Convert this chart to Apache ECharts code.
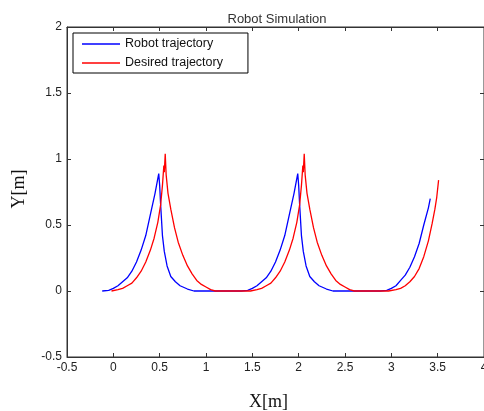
<!DOCTYPE html>
<html><head><meta charset="utf-8">
<script src="https://cdn.jsdelivr.net/npm/echarts@6/dist/echarts.min.js"></script>
<style>html,body{margin:0;padding:0;background:#fff}#c{width:484px;height:411px}</style>
</head><body><div id="c"></div>
<script>
const seriesNames = ['Robot trajectory', 'Desired trajectory'];
const seriesColors = ['#0000ff', '#ff0000'];
const xTicks = [-0.5, 0, 0.5, 1, 1.5, 2, 2.5, 3, 3.5, 4];
const yTicks = [-0.5, 0, 0.5, 1, 1.5, 2];

const blueX = [-0.12,-0.05,0.00,0.05,0.10,0.15,0.20,0.25,0.30,0.35,0.40,0.45,0.49,0.50,0.51,0.53,0.55,0.58,0.62,0.67,0.72,0.80,0.87,
  1.38,1.45,1.50,1.55,1.60,1.65,1.70,1.75,1.80,1.85,1.90,1.95,1.99,2.00,2.01,2.03,2.05,2.08,2.12,2.17,2.22,2.30,2.37,
  2.88,2.95,3.00,3.05,3.10,3.15,3.20,3.25,3.30,3.35,3.40,3.42];
const blueY = [0,0.005,0.02,0.04,0.07,0.10,0.15,0.22,0.31,0.42,0.58,0.74,0.89,0.80,0.66,0.42,0.30,0.19,0.11,0.07,0.04,0.015,0,
  0,0.005,0.02,0.04,0.07,0.10,0.15,0.22,0.31,0.42,0.58,0.74,0.89,0.80,0.66,0.42,0.30,0.19,0.11,0.07,0.04,0.015,0,
  0,0.005,0.02,0.04,0.08,0.12,0.18,0.26,0.36,0.50,0.63,0.70];

const redX = [-0.02,0.05,0.10,0.15,0.20,0.25,0.30,0.35,0.40,0.44,0.48,0.51,0.53,0.545,0.55,0.56,0.57,0.59,0.62,0.66,0.70,0.75,0.80,0.85,0.90,0.95,1.00,1.05,1.10,
  1.48,1.55,1.60,1.65,1.70,1.75,1.80,1.85,1.90,1.94,1.98,2.01,2.03,2.045,2.05,2.06,2.07,2.09,2.12,2.16,2.20,2.25,2.30,2.35,2.40,2.45,2.50,2.55,2.60,
  2.97,3.05,3.10,3.15,3.20,3.25,3.30,3.35,3.40,3.44,3.47,3.49,3.51];
const redY = [0,0.01,0.02,0.04,0.06,0.10,0.15,0.22,0.31,0.40,0.52,0.65,0.80,0.95,0.90,1.04,0.88,0.74,0.62,0.48,0.37,0.27,0.19,0.13,0.08,0.05,0.03,0.01,0,
  0,0.01,0.02,0.04,0.06,0.10,0.15,0.22,0.31,0.40,0.52,0.65,0.80,0.95,0.90,1.04,0.88,0.74,0.62,0.48,0.37,0.27,0.19,0.13,0.08,0.05,0.03,0.01,0,
  0,0.01,0.02,0.04,0.07,0.11,0.17,0.26,0.38,0.51,0.62,0.71,0.84];

const zip = (xs, ys) => xs.map((x, i) => [x, ys[i]]);
const labelFont = {fontFamily:'Liberation Sans', fontSize:12, color:'#222'};
const lineC = '#333';

function xAx(pos, main) {
  return {
    type:'value', min:xTicks[0], max:xTicks[xTicks.length-1], interval:0.5, position:pos,
    axisLine:{show:true, onZero:false, lineStyle:{color:lineC, width:1}},
    axisTick:{show:true, inside:true, length:4, lineStyle:{color:lineC}},
    axisLabel:Object.assign({show:main, margin:5}, labelFont),
    splitLine:{show:false},
    name: main ? 'X[m]' : '', nameLocation:'middle', nameGap:36,
    nameTextStyle:{fontFamily:'Liberation Serif', fontSize:18, color:'#111', padding:[0,14,0,0]}
  };
}
function yAx(pos, main) {
  return {
    type:'value', min:yTicks[0], max:yTicks[yTicks.length-1], interval:0.5, position:pos,
    axisLine:{show:true, onZero:false, lineStyle:{color:lineC, width:1}},
    axisTick:{show:true, inside:true, length:4, lineStyle:{color:lineC}},
    axisLabel:Object.assign({show:main, margin:5}, labelFont),
    splitLine:{show:false},
    name: main ? 'Y[m]' : '', nameLocation:'middle', nameGap:39, nameRotate:90,
    nameTextStyle:{fontFamily:'Liberation Serif', fontSize:18, color:'#111', padding:[0,0,0,6]}
  };
}

const chart = echarts.init(document.getElementById('c'), null, {renderer:'canvas'});
chart.setOption({
  animation:false,
  backgroundColor:'#fff',
  title:{text:'Robot Simulation', left:272, top:8, textAlign:'center',
    textStyle:{fontFamily:'Liberation Sans', fontSize:13, fontWeight:'normal', color:'#333'}},
  grid:{left:67, top:27, right:0, bottom:54, outerBoundsMode:'none', containLabel:false,
    show:true, borderColor:lineC, borderWidth:1, backgroundColor:'#fff'},
  legend:{orient:'vertical', left:73, top:33, padding:[4,25,3,9], itemWidth:38, itemHeight:1.4, itemGap:5,
    borderColor:'#000', borderWidth:1, backgroundColor:'#fff', icon:'rect',
    itemStyle:{borderWidth:0},
    textStyle:{fontFamily:'Liberation Sans', fontSize:12.5, color:'#111', lineHeight:14},
    data:seriesNames},
  xAxis:[xAx('bottom', true), xAx('top', false)],
  yAxis:[yAx('left', true), yAx('right', false)],
  series:[
    {type:'line', name:seriesNames[0], data:zip(blueX, blueY), symbol:'none', showSymbol:false,
      lineStyle:{color:seriesColors[0], width:1.3}, itemStyle:{color:seriesColors[0]}},
    {type:'line', name:seriesNames[1], data:zip(redX, redY), symbol:'none', showSymbol:false,
      lineStyle:{color:seriesColors[1], width:1.3}, itemStyle:{color:seriesColors[1]}}
  ]
});
</script>
</body></html>
